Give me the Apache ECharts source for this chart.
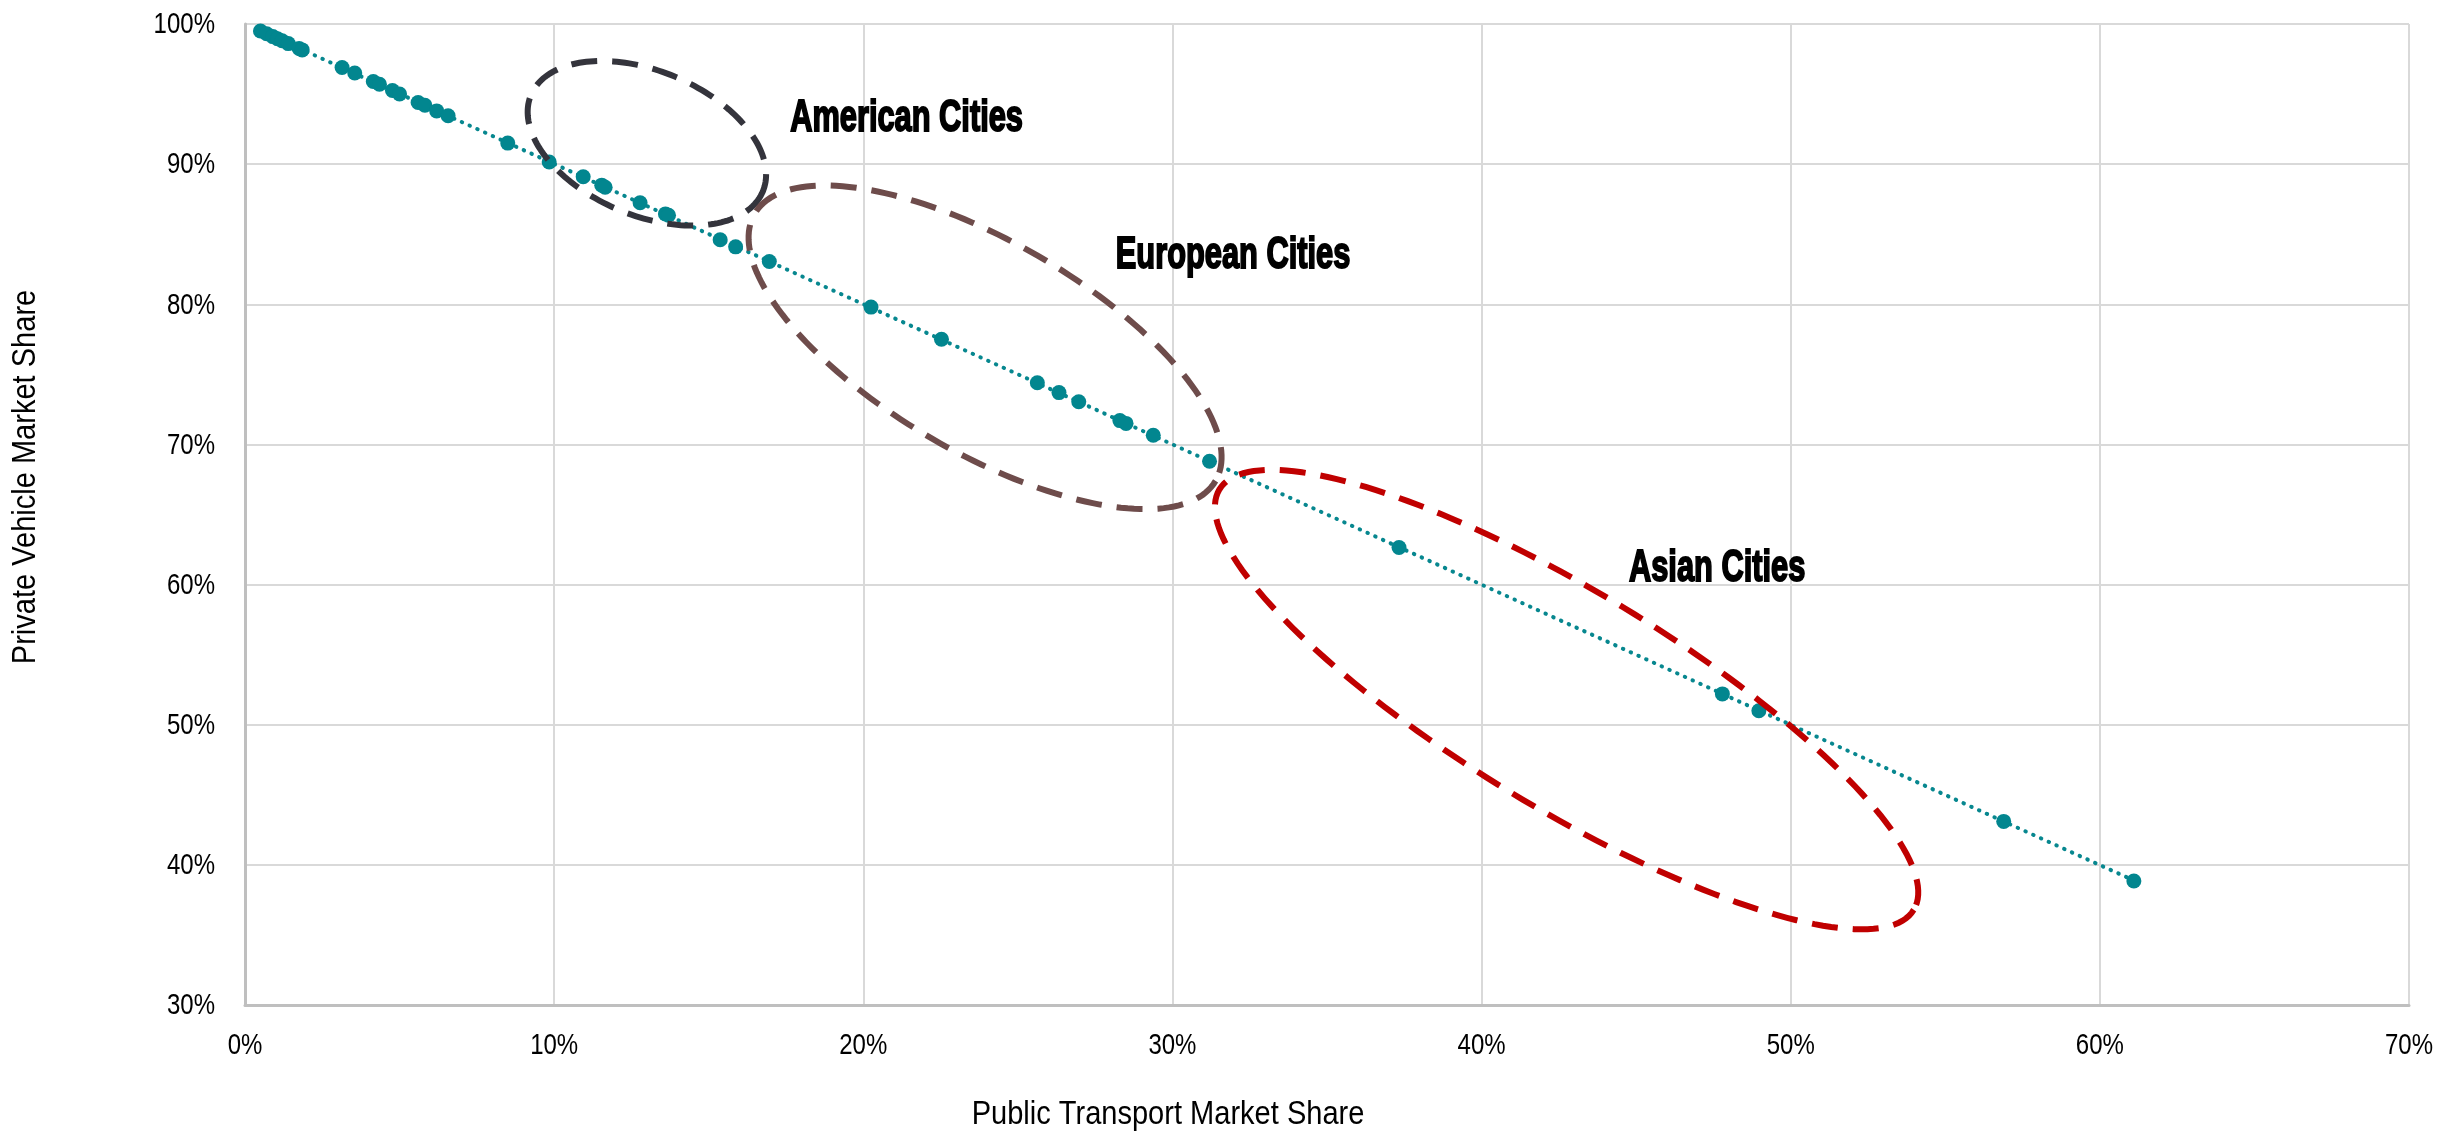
<!DOCTYPE html>
<html>
<head>
<meta charset="utf-8">
<script src="https://cdn.jsdelivr.net/npm/echarts@6/dist/echarts.min.js"></script>
<style>
  html, body { margin: 0; padding: 0; background: #fff; }
  #chart { width: 2463px; height: 1136px; }
</style>
</head>
<body>
<div id="chart"></div>
<script>
// market shares in percent
var publicShare = [0.5, 0.7, 0.9, 1.05, 1.2, 1.4, 1.75, 1.85,
  3.14, 3.55, 4.15, 4.35, 4.77, 5.0, 5.6, 5.82, 6.2, 6.57,
  8.5, 9.84, 10.94, 11.54, 11.65, 12.78, 13.6, 13.7, 15.37, 15.87, 16.96,
  20.25, 22.53, 25.63, 26.33, 26.97, 28.3, 28.5, 29.38, 31.2,
  37.33, 47.79, 48.97, 56.89, 61.1];
var privateShare = [99.5, 99.3, 99.1, 98.95, 98.8, 98.6, 98.25, 98.15,
  96.9, 96.5, 95.9, 95.7, 95.25, 95.0, 94.4, 94.2, 93.8, 93.45,
  91.5, 90.15, 89.1, 88.5, 88.35, 87.25, 86.45, 86.35, 84.6, 84.1, 83.05,
  79.8, 77.5, 74.4, 73.7, 73.05, 71.7, 71.5, 70.65, 68.8,
  62.65, 52.2, 51.0, 43.1, 38.85];

var xTicks = [0, 10, 20, 30, 40, 50, 60, 70];
var yTicks = [30, 40, 50, 60, 70, 80, 90, 100];

// group annotations: label text and where it sits (data units)
var groupNames = ['American Cities', 'European Cities', 'Asian Cities'];
var groupLabelX = [21.4, 31.96, 47.62];
var groupLabelY = [93.2, 83.44, 61.1];
// ellipse: centre and two conjugate half-axes, in data units
var ellipseCenter = [[13.0, 91.49], [23.94, 76.93], [42.75, 51.79]];
var ellipseAxisU = [[3.75, -3.44], [7.456, -9.53], [11.23, -15.0]];
var ellipseAxisV = [[-0.9, -4.76], [-1.714, -6.52], [-1.815, -6.61]];
var ellipseColors = ['#34343c', '#6e4c4b', '#c00000'];

var points = publicShare.map(function (x, i) { return [x, privateShare[i]]; });

// linear trendline (least squares), drawn across the data range
function trendline(xs, ys) {
  var n = xs.length, sx = 0, sy = 0, sxx = 0, sxy = 0;
  for (var i = 0; i < n; i++) {
    sx += xs[i]; sy += ys[i]; sxx += xs[i] * xs[i]; sxy += xs[i] * ys[i];
  }
  var b = (n * sxy - sx * sy) / (n * sxx - sx * sx);
  var a = (sy - b * sx) / n;
  var x0 = Math.min.apply(null, xs), x1 = Math.max.apply(null, xs);
  return [[x0, a + b * x0], [x1, a + b * x1]];
}

var ellipseData = ellipseCenter.map(function (c, i) {
  return [c[0], c[1], ellipseAxisU[i][0], ellipseAxisU[i][1], ellipseAxisV[i][0], ellipseAxisV[i][1], i];
});

function renderEllipse(params, api) {
  var cx = api.value(0), cy = api.value(1);
  var ux = api.value(2), uy = api.value(3), vx = api.value(4), vy = api.value(5);
  var pts = [];
  for (var k = 0; k < 180; k++) {
    var t = k / 180 * Math.PI * 2;
    pts.push(api.coord([cx + ux * Math.cos(t) + vx * Math.sin(t), cy + uy * Math.cos(t) + vy * Math.sin(t)]));
  }
  return {
    type: 'polygon',
    shape: { points: pts },
    style: {
      fill: null,
      stroke: ellipseColors[api.value(6)],
      lineWidth: 6,
      lineDash: [26, 15]
    },
    silent: true
  };
}

// the reference uses a narrow face; squeeze Liberation Sans to match
var narrow = 0.8;
var tickFontSize = 30;

function renderXTick(params, api) {
  var p = api.coord([api.value(0), api.value(1)]);
  return {
    type: 'text', x: p[0], y: p[1] + 41, scaleX: narrow, silent: true,
    style: {
      text: api.value(0) + '%', fill: '#000', fontSize: tickFontSize,
      fontFamily: 'Liberation Sans', align: 'center', verticalAlign: 'middle'
    }
  };
}

function renderYTick(params, api) {
  var p = api.coord([api.value(0), api.value(1)]);
  return {
    type: 'text', x: p[0] - 30, y: p[1] + 1, scaleX: narrow, silent: true,
    style: {
      text: api.value(1) + '%', fill: '#000', fontSize: tickFontSize,
      fontFamily: 'Liberation Sans', align: 'right', verticalAlign: 'middle'
    }
  };
}

var groupData = groupNames.map(function (name, i) {
  return [groupLabelX[i], groupLabelY[i], i];
});

function renderGroupLabel(params, api) {
  var p = api.coord([api.value(0), api.value(1)]);
  return {
    type: 'text', x: p[0], y: p[1], scaleX: 0.7, silent: true,
    style: {
      text: groupNames[api.value(2)], fill: '#000',
      fontSize: 44, fontWeight: 'bold', fontFamily: 'Liberation Sans',
      stroke: '#000', lineWidth: 2,
      align: 'center', verticalAlign: 'middle',
      shadowColor: 'rgba(0,0,0,0.5)', shadowBlur: 3, shadowOffsetX: 3, shadowOffsetY: 3
    }
  };
}

var gridLine = { color: '#d9d9d9', width: 2 };
var axisLine = { color: '#bfbfbf', width: 3 };

var chart = echarts.init(document.getElementById('chart'));
chart.setOption({
  animation: false,
  grid: { left: 245, right: 54, top: 24, bottom: 131 },
  graphic: [
    {
      type: 'text', x: 1168, y: 1115, scaleX: 0.88, silent: true,
      style: {
        text: 'Public Transport Market Share', fill: '#000', fontSize: 33,
        fontFamily: 'Liberation Sans', align: 'center', verticalAlign: 'middle'
      }
    },
    {
      type: 'text', x: 26, y: 477, rotation: Math.PI / 2, scaleX: 0.88, silent: true,
      style: {
        text: 'Private Vehicle Market Share', fill: '#000', fontSize: 33,
        fontFamily: 'Liberation Sans', align: 'center', verticalAlign: 'middle'
      }
    }
  ],
  xAxis: {
    type: 'value',
    min: xTicks[0],
    max: xTicks[xTicks.length - 1],
    interval: 10,
    axisLine: { lineStyle: axisLine },
    axisTick: { show: false },
    splitLine: { lineStyle: gridLine },
    axisLabel: { show: false }
  },
  yAxis: {
    type: 'value',
    min: yTicks[0],
    max: yTicks[yTicks.length - 1],
    interval: 10,
    axisLine: { show: true, lineStyle: axisLine },
    axisTick: { show: false },
    splitLine: { lineStyle: gridLine },
    axisLabel: { show: false }
  },
  series: [
    {
      type: 'line',
      data: trendline(publicShare, privateShare),
      symbol: 'none',
      silent: true,
      z: 2,
      lineStyle: { color: '#07878f', width: 4, type: [0.5, 8], cap: 'round' }
    },
    {
      type: 'scatter',
      data: points,
      symbol: 'circle',
      symbolSize: 15,
      z: 3,
      itemStyle: { color: '#02868f', opacity: 1 }
    },
    {
      type: 'custom',
      data: ellipseData,
      renderItem: renderEllipse,
      z: 4,
      encode: { x: 0, y: 1 }
    },
    {
      type: 'custom',
      data: groupData,
      renderItem: renderGroupLabel,
      z: 5,
      encode: { x: 0, y: 1 }
    },
    {
      type: 'custom',
      data: xTicks.map(function (t) { return [t, yTicks[0]]; }),
      renderItem: renderXTick,
      encode: { x: 0, y: 1 }
    },
    {
      type: 'custom',
      data: yTicks.map(function (t) { return [xTicks[0], t]; }),
      renderItem: renderYTick,
      encode: { x: 0, y: 1 }
    }
  ]
});
</script>
</body>
</html>
